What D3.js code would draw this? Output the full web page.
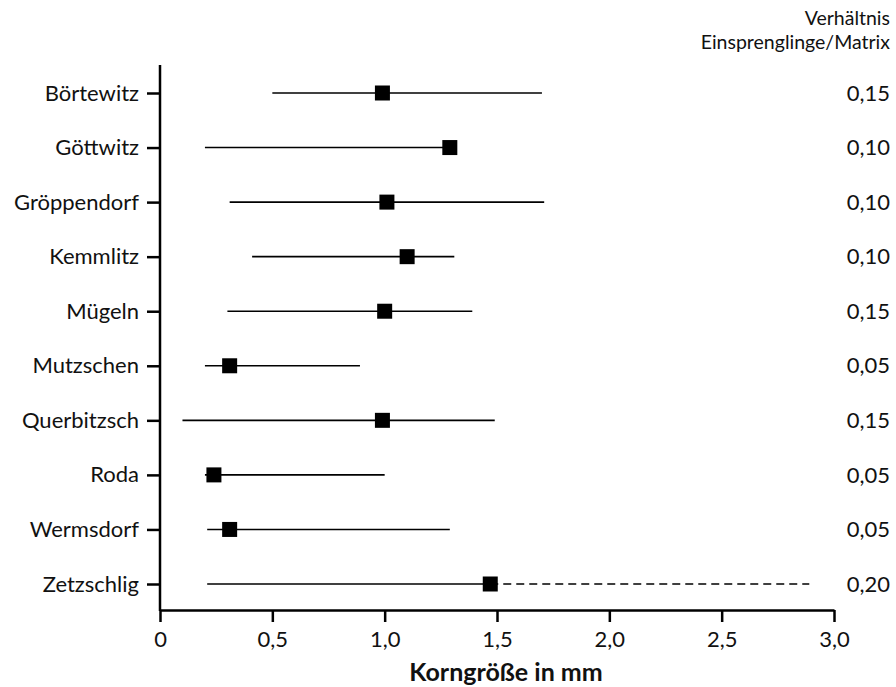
<!DOCTYPE html>
<html>
<head>
<meta charset="utf-8">
<script src="https://cdn.jsdelivr.net/npm/d3@7"></script>
<style>
  body { margin: 0; background: #fff; }
  svg text { font-family: Lato, "Open Sans", sans-serif; fill: #111; }
</style>
</head>
<body>
<div id="chart"></div>
<script>
// Dimensions
const width = 896;
const height = 687;

// Data
const sites = ['Börtewitz', 'Göttwitz', 'Gröppendorf', 'Kemmlitz', 'Mügeln',
               'Mutzschen', 'Querbitzsch', 'Roda', 'Wermsdorf', 'Zetzschlig'];
const minSize  = [0.50, 0.20, 0.31, 0.41, 0.30, 0.20, 0.10, 0.20, 0.21, 0.21];
const meanSize = [0.99, 1.29, 1.01, 1.10, 1.00, 0.31, 0.99, 0.24, 0.31, 1.47];
const maxSize  = [1.70, 1.29, 1.71, 1.31, 1.39, 0.89, 1.49, 1.00, 1.29, 1.47];
// dashed extension (only Zetzschlig)
const extSize  = [null, null, null, null, null, null, null, null, null, 2.89];
const ratio    = [0.15, 0.10, 0.10, 0.10, 0.15, 0.05, 0.15, 0.05, 0.05, 0.20];
const xTicks   = [0, 0.5, 1.0, 1.5, 2.0, 2.5, 3.0];

const rows = sites.map((s, i) => ({
    site: s, min: minSize[i], mean: meanSize[i], max: maxSize[i],
    ext: extSize[i], ratio: ratio[i]
}));

const comma = d3.formatLocale({decimal: ',', thousands: '.', grouping: [3], currency: ['', '€']});
const fmt1 = comma.format('.1f');
const fmt2 = comma.format('.2f');

// Scales
const x = d3.scaleLinear().domain([0, 3]).range([160, 834]);
const y = d3.scalePoint().domain(sites).range([93, 584]);
const axisY = 610;

const svg = d3.select('#chart').append('svg')
    .attr('width', width)
    .attr('height', height);

// X axis
const xAxis = svg.append('g')
    .attr('transform', `translate(0,${axisY})`)
    .call(d3.axisBottom(x)
        .tickValues(xTicks)
        .tickSizeInner(12)
        .tickSizeOuter(0)
        .tickPadding(9)
        .tickFormat(d => d === 0 ? '0' : fmt1(d)));
xAxis.select('.domain').attr('stroke', '#000').attr('stroke-width', 2.5);
xAxis.selectAll('.tick line').attr('stroke', '#000').attr('stroke-width', 2.5);
xAxis.selectAll('.tick text')
    .style('font-size', '22px')
    .style('font-family', 'Lato, sans-serif');

// Y axis
const yAxis = svg.append('g')
    .attr('transform', 'translate(160,0)')
    .call(d3.axisLeft(y)
        .tickSizeInner(13)
        .tickSizeOuter(0)
        .tickPadding(8));
yAxis.select('.domain').remove();
yAxis.selectAll('.tick line').attr('stroke', '#000').attr('stroke-width', 2.5);
yAxis.selectAll('.tick text')
    .style('font-size', '22px')
    .style('font-family', 'Lato, sans-serif');

svg.append('line')
    .attr('x1', 160).attr('x2', 160)
    .attr('y1', 65).attr('y2', axisY + 1)
    .attr('stroke', '#000')
    .attr('stroke-width', 2.5);

// Range lines
svg.selectAll('.range')
    .data(rows)
    .enter().append('line')
    .attr('class', 'range')
    .attr('x1', d => x(d.min))
    .attr('x2', d => x(d.max))
    .attr('y1', d => y(d.site))
    .attr('y2', d => y(d.site))
    .attr('stroke', '#000')
    .attr('stroke-width', 1.6);

// Dashed extension
svg.selectAll('.ext')
    .data(rows.filter(d => d.ext !== null))
    .enter().append('line')
    .attr('class', 'ext')
    .attr('x1', d => x(d.max))
    .attr('x2', d => x(d.ext))
    .attr('y1', d => y(d.site))
    .attr('y2', d => y(d.site))
    .attr('stroke', '#000')
    .attr('stroke-width', 1.3)
    .attr('stroke-dasharray', '8,5');

// Mean markers
const sq = 15;
svg.selectAll('.mean')
    .data(rows)
    .enter().append('rect')
    .attr('class', 'mean')
    .attr('x', d => x(d.mean) - sq / 2)
    .attr('y', d => y(d.site) - sq / 2)
    .attr('width', sq)
    .attr('height', sq)
    .attr('fill', '#000');

// Ratio column
svg.selectAll('.ratio')
    .data(rows)
    .enter().append('text')
    .attr('class', 'ratio')
    .attr('x', 890)
    .attr('y', d => y(d.site))
    .attr('dy', '0.35em')
    .attr('text-anchor', 'end')
    .style('font-size', '22px')
    .text(d => fmt2(d.ratio));

// Column header
svg.append('text')
    .attr('x', 890).attr('y', 25)
    .attr('text-anchor', 'end')
    .style('font-size', '19.5px')
    .text('Verhältnis');
svg.append('text')
    .attr('x', 890).attr('y', 49)
    .attr('text-anchor', 'end')
    .style('font-size', '19.5px')
    .text('Einsprenglinge/Matrix');

// X axis title
svg.append('text')
    .attr('x', 506).attr('y', 681)
    .attr('text-anchor', 'middle')
    .style('font-size', '25px')
    .style('font-weight', 'bold')
    .text('Korngröße in mm');
</script>
</body>
</html>
